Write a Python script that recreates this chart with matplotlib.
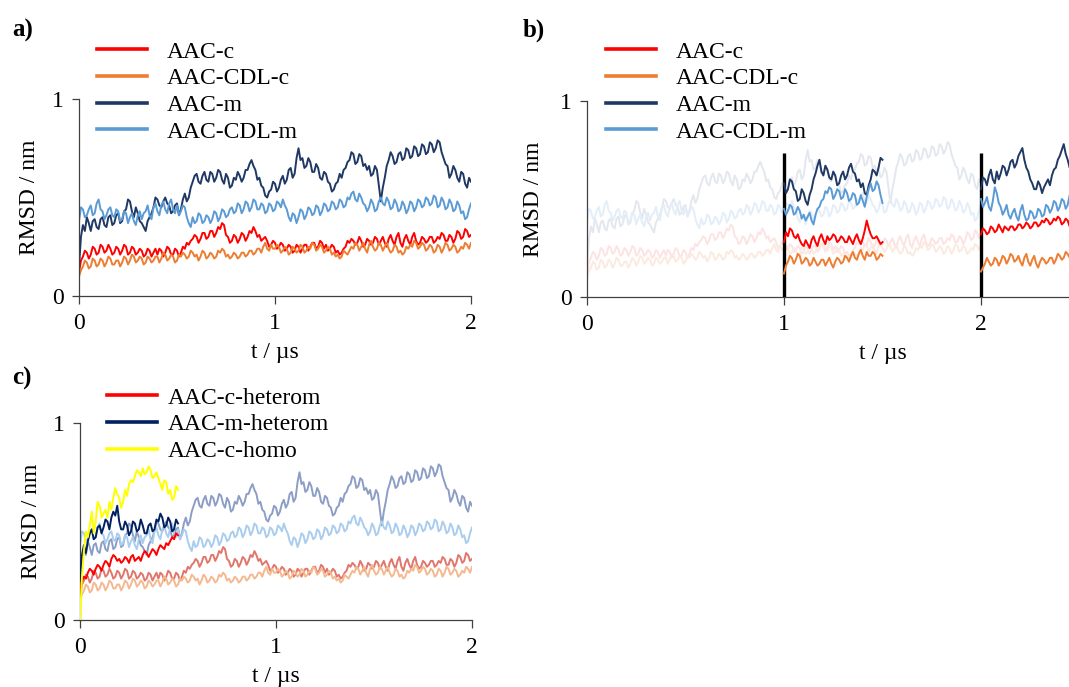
import numpy as np
import matplotlib
matplotlib.use("Agg")
import matplotlib.pyplot as plt
from matplotlib.lines import Line2D

plt.rcParams['font.family'] = ['Liberation Serif', 'DejaVu Serif']
plt.rcParams['font.size'] = 17

# ---------------- data (RMSD / nm), sampled every 0.01 us over 0-2 us ----------------
aac_m = [0.15, 0.30, 0.36, 0.33, 0.40, 0.37, 0.33, 0.38, 0.39, 0.35, 0.34, 0.39, 0.40, 0.36, 0.35, 0.40, 0.41, 0.36, 0.37, 0.41,
         0.42, 0.37, 0.38, 0.43, 0.44, 0.49, 0.48, 0.43, 0.40, 0.45, 0.42, 0.38, 0.37, 0.35, 0.33, 0.38, 0.40, 0.42, 0.45, 0.50,
         0.49, 0.46, 0.45, 0.48, 0.50, 0.47, 0.46, 0.42, 0.43, 0.46, 0.47, 0.41, 0.44, 0.49, 0.52, 0.48, 0.50, 0.55, 0.58, 0.61,
         0.62, 0.58, 0.57, 0.61, 0.63, 0.59, 0.58, 0.63, 0.62, 0.58, 0.60, 0.64, 0.63, 0.59, 0.57, 0.62, 0.60, 0.55, 0.56, 0.60,
         0.59, 0.63, 0.61, 0.58, 0.60, 0.64, 0.64, 0.67, 0.69, 0.66, 0.64, 0.59, 0.60, 0.56, 0.55, 0.51, 0.50, 0.53, 0.54, 0.58,
         0.57, 0.53, 0.55, 0.59, 0.61, 0.57, 0.59, 0.64, 0.65, 0.60, 0.62, 0.70, 0.75, 0.69, 0.70, 0.65, 0.66, 0.70, 0.68, 0.63,
         0.63, 0.67, 0.65, 0.60, 0.59, 0.63, 0.62, 0.58, 0.57, 0.53, 0.54, 0.57, 0.58, 0.62, 0.60, 0.64, 0.65, 0.68, 0.69, 0.73,
         0.72, 0.67, 0.68, 0.72, 0.71, 0.66, 0.67, 0.64, 0.66, 0.61, 0.62, 0.66, 0.64, 0.56, 0.48, 0.55, 0.60, 0.66, 0.69, 0.73,
         0.71, 0.67, 0.68, 0.72, 0.73, 0.69, 0.70, 0.75, 0.74, 0.70, 0.71, 0.76, 0.75, 0.71, 0.72, 0.77, 0.76, 0.72, 0.73, 0.78,
         0.77, 0.73, 0.75, 0.79, 0.78, 0.73, 0.70, 0.67, 0.66, 0.60, 0.62, 0.66, 0.64, 0.60, 0.58, 0.63, 0.62, 0.57, 0.55, 0.60,
         0.58]
aac_cdl_m = [0.38, 0.45, 0.44, 0.40, 0.41, 0.44, 0.46, 0.41, 0.42, 0.47, 0.49, 0.44, 0.43, 0.39, 0.41, 0.44, 0.45, 0.41, 0.40, 0.44,
             0.43, 0.38, 0.39, 0.43, 0.42, 0.37, 0.40, 0.42, 0.38, 0.36, 0.41, 0.43, 0.39, 0.42, 0.43, 0.46, 0.41, 0.39, 0.45, 0.47,
             0.43, 0.41, 0.46, 0.48, 0.44, 0.42, 0.47, 0.49, 0.44, 0.42, 0.46, 0.41, 0.43, 0.46, 0.45, 0.40, 0.37, 0.35, 0.40, 0.37,
             0.38, 0.42, 0.41, 0.37, 0.38, 0.41, 0.40, 0.37, 0.39, 0.43, 0.42, 0.38, 0.40, 0.44, 0.43, 0.40, 0.41, 0.44, 0.45, 0.42,
             0.43, 0.47, 0.46, 0.42, 0.44, 0.48, 0.47, 0.43, 0.45, 0.49, 0.48, 0.44, 0.44, 0.47, 0.46, 0.42, 0.43, 0.47, 0.46, 0.43,
             0.44, 0.48, 0.47, 0.45, 0.49, 0.46, 0.44, 0.40, 0.38, 0.42, 0.41, 0.37, 0.40, 0.44, 0.43, 0.39, 0.41, 0.45, 0.44, 0.41,
             0.42, 0.46, 0.45, 0.41, 0.43, 0.47, 0.46, 0.43, 0.44, 0.48, 0.47, 0.44, 0.45, 0.49, 0.48, 0.45, 0.46, 0.50, 0.49, 0.52,
             0.53, 0.49, 0.48, 0.52, 0.50, 0.47, 0.46, 0.43, 0.45, 0.49, 0.47, 0.43, 0.44, 0.48, 0.50, 0.47, 0.46, 0.50, 0.48, 0.44,
             0.45, 0.49, 0.47, 0.43, 0.44, 0.48, 0.46, 0.42, 0.44, 0.48, 0.47, 0.43, 0.45, 0.49, 0.48, 0.45, 0.46, 0.50, 0.49, 0.46,
             0.47, 0.51, 0.50, 0.45, 0.46, 0.50, 0.48, 0.44, 0.45, 0.49, 0.47, 0.43, 0.44, 0.48, 0.46, 0.42, 0.43, 0.39, 0.40, 0.44,
             0.47]
aac_c = [0.12, 0.18, 0.20, 0.23, 0.22, 0.19, 0.21, 0.25, 0.24, 0.21, 0.22, 0.26, 0.25, 0.22, 0.23, 0.26, 0.24, 0.21, 0.22, 0.25,
         0.24, 0.21, 0.23, 0.26, 0.25, 0.21, 0.22, 0.25, 0.24, 0.21, 0.22, 0.24, 0.23, 0.20, 0.21, 0.24, 0.23, 0.20, 0.22, 0.24,
         0.21, 0.24, 0.23, 0.20, 0.22, 0.25, 0.24, 0.21, 0.21, 0.24, 0.23, 0.20, 0.22, 0.25, 0.24, 0.27, 0.26, 0.28, 0.29, 0.31,
         0.30, 0.27, 0.29, 0.32, 0.32, 0.29, 0.30, 0.33, 0.33, 0.30, 0.32, 0.35, 0.34, 0.37, 0.36, 0.31, 0.30, 0.27, 0.28, 0.31,
         0.30, 0.27, 0.29, 0.32, 0.31, 0.28, 0.30, 0.33, 0.32, 0.35, 0.33, 0.30, 0.31, 0.28, 0.29, 0.30, 0.28, 0.25, 0.26, 0.28,
         0.27, 0.24, 0.25, 0.27, 0.26, 0.23, 0.24, 0.26, 0.25, 0.22, 0.23, 0.26, 0.25, 0.22, 0.24, 0.26, 0.26, 0.23, 0.25, 0.27,
         0.27, 0.24, 0.25, 0.28, 0.27, 0.24, 0.26, 0.23, 0.24, 0.26, 0.25, 0.22, 0.23, 0.21, 0.22, 0.24, 0.25, 0.28, 0.27, 0.29,
         0.28, 0.26, 0.27, 0.30, 0.28, 0.25, 0.26, 0.29, 0.28, 0.26, 0.27, 0.30, 0.29, 0.26, 0.28, 0.30, 0.27, 0.25, 0.29, 0.31,
         0.28, 0.26, 0.30, 0.32, 0.27, 0.25, 0.29, 0.31, 0.28, 0.26, 0.30, 0.32, 0.28, 0.26, 0.27, 0.30, 0.29, 0.27, 0.28, 0.30,
         0.30, 0.27, 0.28, 0.30, 0.29, 0.32, 0.31, 0.28, 0.28, 0.31, 0.30, 0.27, 0.29, 0.33, 0.32, 0.29, 0.30, 0.34, 0.33, 0.30,
         0.31]
aac_cdl_c = [0.10, 0.13, 0.15, 0.18, 0.17, 0.14, 0.15, 0.19, 0.18, 0.15, 0.16, 0.19, 0.18, 0.15, 0.17, 0.20, 0.19, 0.16, 0.16, 0.18,
             0.18, 0.15, 0.17, 0.20, 0.19, 0.16, 0.18, 0.21, 0.20, 0.17, 0.18, 0.20, 0.19, 0.16, 0.17, 0.20, 0.19, 0.17, 0.18, 0.20,
             0.20, 0.17, 0.19, 0.22, 0.21, 0.18, 0.19, 0.21, 0.20, 0.17, 0.18, 0.21, 0.20, 0.22, 0.21, 0.19, 0.20, 0.23, 0.22, 0.20,
             0.21, 0.18, 0.20, 0.23, 0.22, 0.19, 0.20, 0.22, 0.21, 0.19, 0.20, 0.23, 0.22, 0.24, 0.23, 0.20, 0.21, 0.19, 0.20, 0.22,
             0.21, 0.19, 0.20, 0.22, 0.22, 0.20, 0.21, 0.23, 0.23, 0.21, 0.22, 0.24, 0.24, 0.22, 0.25, 0.27, 0.24, 0.23, 0.26, 0.24,
             0.24, 0.26, 0.25, 0.22, 0.23, 0.25, 0.24, 0.21, 0.22, 0.25, 0.24, 0.22, 0.23, 0.26, 0.25, 0.22, 0.23, 0.25, 0.24, 0.27,
             0.26, 0.23, 0.24, 0.26, 0.25, 0.22, 0.23, 0.25, 0.24, 0.21, 0.22, 0.20, 0.21, 0.19, 0.20, 0.23, 0.22, 0.21, 0.23, 0.25,
             0.24, 0.27, 0.26, 0.23, 0.25, 0.27, 0.24, 0.22, 0.26, 0.28, 0.25, 0.23, 0.24, 0.27, 0.26, 0.23, 0.25, 0.27, 0.24, 0.22,
             0.23, 0.26, 0.25, 0.22, 0.23, 0.21, 0.22, 0.25, 0.24, 0.26, 0.25, 0.28, 0.27, 0.24, 0.25, 0.27, 0.26, 0.23, 0.24, 0.26,
             0.25, 0.22, 0.23, 0.26, 0.25, 0.22, 0.24, 0.27, 0.26, 0.23, 0.24, 0.26, 0.25, 0.22, 0.23, 0.25, 0.24, 0.27, 0.26, 0.24,
             0.27]
t_full = np.linspace(0.0, 2.0, len(aac_m))

# panel b: restarted runs at 1 us and 2 us (0.01 us sampling)
seg1_m = [0.58, 0.53, 0.55, 0.60, 0.59, 0.55, 0.54, 0.49, 0.50, 0.55, 0.53, 0.49, 0.47, 0.52, 0.55, 0.60, 0.63, 0.67, 0.70, 0.64,
          0.62, 0.67, 0.65, 0.61, 0.60, 0.64, 0.62, 0.57, 0.58, 0.62, 0.64, 0.60, 0.62, 0.66, 0.68, 0.64, 0.63, 0.59, 0.60, 0.56,
          0.58, 0.53, 0.52, 0.57, 0.60, 0.65, 0.64, 0.62, 0.66, 0.71, 0.70]
seg1_cdl_m = [0.45, 0.42, 0.44, 0.47, 0.46, 0.42, 0.43, 0.46, 0.44, 0.40, 0.42, 0.39, 0.41, 0.43, 0.39, 0.37, 0.42, 0.45, 0.46, 0.49,
              0.50, 0.54, 0.53, 0.56, 0.55, 0.50, 0.52, 0.55, 0.54, 0.50, 0.51, 0.55, 0.53, 0.49, 0.50, 0.53, 0.52, 0.47, 0.48, 0.52,
              0.49, 0.46, 0.51, 0.55, 0.58, 0.54, 0.55, 0.59, 0.57, 0.52, 0.48]
seg1_c = [0.28, 0.33, 0.31, 0.35, 0.34, 0.31, 0.30, 0.32, 0.29, 0.27, 0.26, 0.29, 0.27, 0.25, 0.29, 0.31, 0.28, 0.26, 0.30, 0.32,
          0.29, 0.27, 0.31, 0.29, 0.30, 0.32, 0.31, 0.28, 0.29, 0.31, 0.30, 0.28, 0.28, 0.31, 0.29, 0.27, 0.30, 0.32, 0.29, 0.27,
          0.30, 0.34, 0.39, 0.35, 0.32, 0.30, 0.30, 0.31, 0.29, 0.27, 0.28]
seg1_cdl_c = [0.12, 0.16, 0.18, 0.21, 0.20, 0.17, 0.19, 0.22, 0.21, 0.17, 0.18, 0.20, 0.19, 0.16, 0.17, 0.20, 0.18, 0.16, 0.17, 0.19,
              0.19, 0.16, 0.18, 0.20, 0.17, 0.15, 0.18, 0.20, 0.19, 0.17, 0.18, 0.21, 0.20, 0.18, 0.21, 0.23, 0.20, 0.19, 0.22, 0.24,
              0.21, 0.19, 0.23, 0.21, 0.21, 0.23, 0.22, 0.19, 0.20, 0.22, 0.21]
seg2_m = [0.55, 0.61, 0.60, 0.57, 0.62, 0.65, 0.60, 0.58, 0.64, 0.60, 0.63, 0.67, 0.66, 0.62, 0.65, 0.69, 0.70, 0.66, 0.68, 0.72,
          0.74, 0.76, 0.70, 0.66, 0.64, 0.60, 0.58, 0.55, 0.55, 0.59, 0.57, 0.53, 0.56, 0.58, 0.60, 0.57, 0.62, 0.65, 0.66, 0.70,
          0.72, 0.75, 0.78, 0.73, 0.70, 0.66, 0.68, 0.73, 0.72, 0.74, 0.70]
seg2_cdl_m = [0.50, 0.46, 0.48, 0.51, 0.46, 0.44, 0.49, 0.56, 0.53, 0.48, 0.46, 0.42, 0.44, 0.47, 0.42, 0.40, 0.43, 0.45, 0.41, 0.39,
              0.44, 0.47, 0.42, 0.39, 0.40, 0.44, 0.43, 0.40, 0.41, 0.45, 0.44, 0.41, 0.42, 0.47, 0.46, 0.43, 0.45, 0.49, 0.48, 0.44,
              0.46, 0.50, 0.49, 0.45, 0.47, 0.52, 0.50, 0.46, 0.48, 0.51, 0.49]
seg2_c = [0.32, 0.35, 0.34, 0.32, 0.33, 0.36, 0.35, 0.33, 0.34, 0.37, 0.35, 0.33, 0.36, 0.35, 0.34, 0.36, 0.36, 0.34, 0.35, 0.37,
          0.37, 0.35, 0.36, 0.38, 0.37, 0.35, 0.36, 0.38, 0.38, 0.36, 0.37, 0.39, 0.38, 0.40, 0.39, 0.37, 0.38, 0.40, 0.39, 0.41,
          0.40, 0.37, 0.38, 0.40, 0.39, 0.36, 0.37, 0.35, 0.36, 0.38, 0.37]
seg2_cdl_c = [0.13, 0.15, 0.17, 0.20, 0.18, 0.16, 0.17, 0.20, 0.19, 0.16, 0.18, 0.21, 0.20, 0.17, 0.19, 0.22, 0.21, 0.18, 0.19, 0.21,
              0.18, 0.16, 0.20, 0.22, 0.18, 0.16, 0.19, 0.21, 0.17, 0.15, 0.18, 0.20, 0.19, 0.17, 0.18, 0.20, 0.20, 0.17, 0.19, 0.22,
              0.21, 0.19, 0.20, 0.23, 0.22, 0.20, 0.21, 0.19, 0.20, 0.23, 0.22]
seg1_span = (1.0, 1.5)
seg2_span = (2.0, 2.5)
split_times = [1.0, 2.0]
split_top = 0.735

# panel c: oligomer runs, 0-0.5 us
c_heterom = [0.15, 0.20, 0.22, 0.21, 0.24, 0.26, 0.25, 0.23, 0.26, 0.28, 0.27, 0.25, 0.28, 0.30, 0.29, 0.27, 0.31, 0.33, 0.32, 0.30,
             0.31, 0.29, 0.30, 0.32, 0.31, 0.29, 0.32, 0.33, 0.30, 0.31, 0.32, 0.30, 0.33, 0.35, 0.34, 0.32, 0.34, 0.36, 0.35, 0.33,
             0.36, 0.38, 0.37, 0.36, 0.39, 0.38, 0.40, 0.42, 0.41, 0.44, 0.43]
m_heterom = [0.20, 0.33, 0.38, 0.34, 0.40, 0.44, 0.46, 0.41, 0.42, 0.47, 0.48, 0.44, 0.47, 0.51, 0.50, 0.46, 0.52, 0.55, 0.53, 0.58,
             0.50, 0.46, 0.46, 0.50, 0.48, 0.43, 0.45, 0.50, 0.49, 0.45, 0.46, 0.51, 0.48, 0.44, 0.44, 0.48, 0.49, 0.45, 0.46, 0.51,
             0.50, 0.54, 0.52, 0.47, 0.48, 0.52, 0.50, 0.45, 0.46, 0.51, 0.49]
c_homo = [0.00, 0.22, 0.35, 0.45, 0.42, 0.48, 0.55, 0.44, 0.50, 0.60, 0.58, 0.52, 0.54, 0.56, 0.52, 0.60, 0.56, 0.62, 0.67, 0.64,
          0.62, 0.57, 0.60, 0.66, 0.63, 0.69, 0.71, 0.70, 0.73, 0.76, 0.75, 0.73, 0.77, 0.74, 0.75, 0.78, 0.76, 0.72, 0.73, 0.75,
          0.72, 0.69, 0.66, 0.71, 0.70, 0.64, 0.66, 0.61, 0.62, 0.68, 0.66]
olig_span = (0.0, 0.5)

labels_ab = ['AAC-c', 'AAC-CDL-c', 'AAC-m', 'AAC-CDL-m']
labels_c = ['AAC-c-heterom', 'AAC-m-heterom', 'AAC-c-homo']

# ---------------- styles ----------------
C_RED, C_ORANGE, C_NAVY, C_LBLUE = '#FF0000', '#ED7D31', '#1F3864', '#5B9BD5'
C_NAVY2, C_YELLOW = '#002060', '#FFFF00'
FADE_B = ['#FDE3E3', '#FBEADF', '#E3E7EE', '#E4EEF8']
FADE_C = ['#E0766C', '#F4B98F', '#8C9EC6', '#A9CDEE']
AX_COL = '#404040'
LW = 1.4
FS = 17

fig = plt.figure(figsize=(10.69, 6.87), dpi=100)
W, H = 1069.0, 687.0


def make_ax(x0, x1, y0, y1, xmax, ylab_right_px, xticks):
    ax = fig.add_axes([x0 / W, 1 - y0 / H, (x1 - x0) / W, (y0 - y1) / H])
    ax.set_xlim(0, xmax)
    ax.set_ylim(0, 1)
    for s in ['top', 'right']:
        ax.spines[s].set_visible(False)
    for s in ['left', 'bottom']:
        ax.spines[s].set_color(AX_COL)
        ax.spines[s].set_linewidth(0.9)
    ax.set_yticks([0, 1])
    ax.set_xticks(xticks)
    ax.tick_params(axis='both', direction='out', color=AX_COL, width=0.9, labelsize=FS)
    ax.tick_params(axis='y', length=5, pad=6)
    ax.tick_params(axis='x', length=6, pad=6)
    ax.set_xlabel('t / µs', fontsize=FS)
    ax.set_ylabel('RMSD / nm', fontsize=FS)
    ax.xaxis.set_label_coords(0.5, -0.235)
    ax.yaxis.set_label_coords((ylab_right_px - x0) / (x1 - x0), 0.5)
    return ax


def add_legend(ax, handles, labels, left_px, top_px, htp):
    ax.legend(handles, labels, loc='upper left', bbox_to_anchor=(left_px / W, 1 - top_px / H),
              bbox_transform=fig.transFigure, frameon=False, borderpad=0, borderaxespad=0,
              handlelength=2.1, handletextpad=htp, labelspacing=0.22, fontsize=FS)


def seg_t(span, vals):
    return np.linspace(span[0], span[1], len(vals))


series_a = [aac_c, aac_cdl_c, aac_m, aac_cdl_m]
cols_a = [C_RED, C_ORANGE, C_NAVY, C_LBLUE]

# ---------------- panel a ----------------
axa = make_ax(79, 471, 296, 99, 2, 40, [0, 1, 2])
for y, c in zip(series_a, cols_a):
    axa.plot(t_full, y, color=c, lw=LW)
ha = [Line2D([], [], color=c, lw=2.6) for c in cols_a]
add_legend(axa, ha, labels_ab, 97, 41, 0.85)

# ---------------- panel b ----------------
axb = make_ax(587, 1178, 297, 101, 3, 544, [0, 1, 2])
for y, c in zip(series_a, FADE_B):
    axb.plot(t_full, y, color=c, lw=LW)
axb.vlines(split_times, 0, split_top, color='black', lw=2.4, zorder=3)
for segs, span in [((seg1_c, seg1_cdl_c, seg1_m, seg1_cdl_m), seg1_span),
                   ((seg2_c, seg2_cdl_c, seg2_m, seg2_cdl_m), seg2_span)]:
    for y, c in zip(segs, cols_a):
        axb.plot(seg_t(span, y), y, color=c, lw=LW, zorder=4)
add_legend(axb, ha, labels_ab, 606, 41, 0.85)

# ---------------- panel c ----------------
axc = make_ax(80, 472, 620, 423, 2, 42, [0, 1, 2])
for y, c in zip(series_a, FADE_C):
    axc.plot(t_full, y, color=c, lw=LW)
cols_c = [C_RED, C_NAVY2, C_YELLOW]
for y, c in zip([c_heterom, m_heterom, c_homo], cols_c):
    axc.plot(seg_t(olig_span, y), y, color=c, lw=LW, zorder=4)
hc = [Line2D([], [], color=c, lw=2.6) for c in cols_c]
add_legend(axc, hc, labels_c, 107, 387, 0.47)

# panel labels
for txt, x, y in [('a)', 12, 30), ('b)', 523, 30), ('c)', 12, 378)]:
    fig.text(x / W, 1 - y / H, txt, fontsize=18, fontweight='bold', va='center', ha='left')

fig.savefig('out.png', dpi=100)
